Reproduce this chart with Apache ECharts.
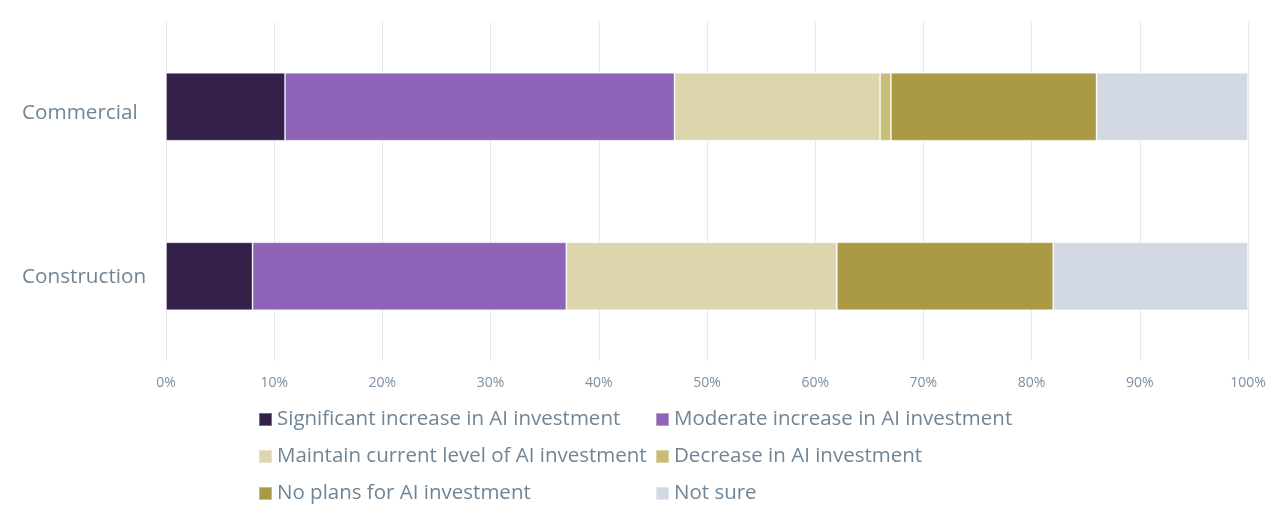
<!DOCTYPE html>
<html>
<head>
<meta charset="utf-8">
<script src="https://cdn.jsdelivr.net/npm/echarts@6/dist/echarts.min.js"></script>
<style>
  html, body { margin: 0; padding: 0; background: #fff; }
  #main { width: 1280px; height: 529px; }
</style>
</head>
<body>
<div id="main"></div>
<script>
// categories, bottom to top as echarts draws them
let sectors = ["Construction", "Commercial"];

// share of respondents, in percent, same order as sectors
let significantIncrease = [8, 11];
let moderateIncrease = [29, 36];
let maintainLevel = [25, 19];
let decrease = [0, 1];
let noPlans = [20, 19];
let notSure = [18, 14];

let seriesNames = [
    "Significant increase in AI investment",
    "Moderate increase in AI investment",
    "Maintain current level of AI investment",
    "Decrease in AI investment",
    "No plans for AI investment",
    "Not sure"
];
let seriesValues = [significantIncrease, moderateIncrease, maintainLevel, decrease, noPlans, notSure];
let colors = ["#35204a", "#8e63b8", "#ddd6ad", "#c9bc77", "#ab9a45", "#d2d9e2"];

let myChart = echarts.init(document.getElementById("main"));

let series = seriesNames.map((name, i) => {
    return {
        name: name,
        type: "bar",
        stack: "total",
        barWidth: 68,
        itemStyle: {
            color: colors[i],
            borderColor: "rgba(255,255,255,0.35)",
            borderWidth: 1
        },
        emphasis: { disabled: true },
        data: seriesValues[i]
    };
});

let option = {
    animation: false,
    textStyle: { fontFamily: "Open Sans" },
    color: colors,
    grid: {
        left: 166,
        right: 32,
        top: 22,
        bottom: 168
    },
    xAxis: {
        type: "value",
        min: 0,
        max: 100,
        interval: 10,
        axisLabel: {
            formatter: "{value}%",
            color: "#7d8fa0",
            fontSize: 14,
            margin: 15
        },
        splitLine: { lineStyle: { color: "#e8e9ec", width: 1 } },
        axisLine: { show: false },
        axisTick: { show: false }
    },
    yAxis: {
        type: "category",
        data: sectors,
        axisLabel: {
            color: "#6f8596",
            fontSize: 20.7,
            align: "left",
            margin: 144,
            // the reference "Commercial" label sits a little below its bar centre
            formatter: (value) => value === "Commercial" ? "{down|" + value + "}" : "{plain|" + value + "}",
            rich: {
                down: { fontSize: 20.7, color: "#6f8596", padding: [13, 0, 0, 0] },
                plain: { fontSize: 20.7, color: "#6f8596", padding: [1, 0, 0, 0] }
            }
        },
        axisLine: { show: false },
        axisTick: { show: false }
    },
    legend: {
        left: 253,
        top: 398,
        width: 800,
        itemWidth: 13,
        itemHeight: 13,
        itemGap: 4,
        icon: "rect",
        textStyle: {
            color: "#6f8596",
            fontSize: 20.5,
            width: 374,
            lineHeight: 33
        },
        data: seriesNames
    },
    series: series
};

myChart.setOption(option);
</script>
</body>
</html>
